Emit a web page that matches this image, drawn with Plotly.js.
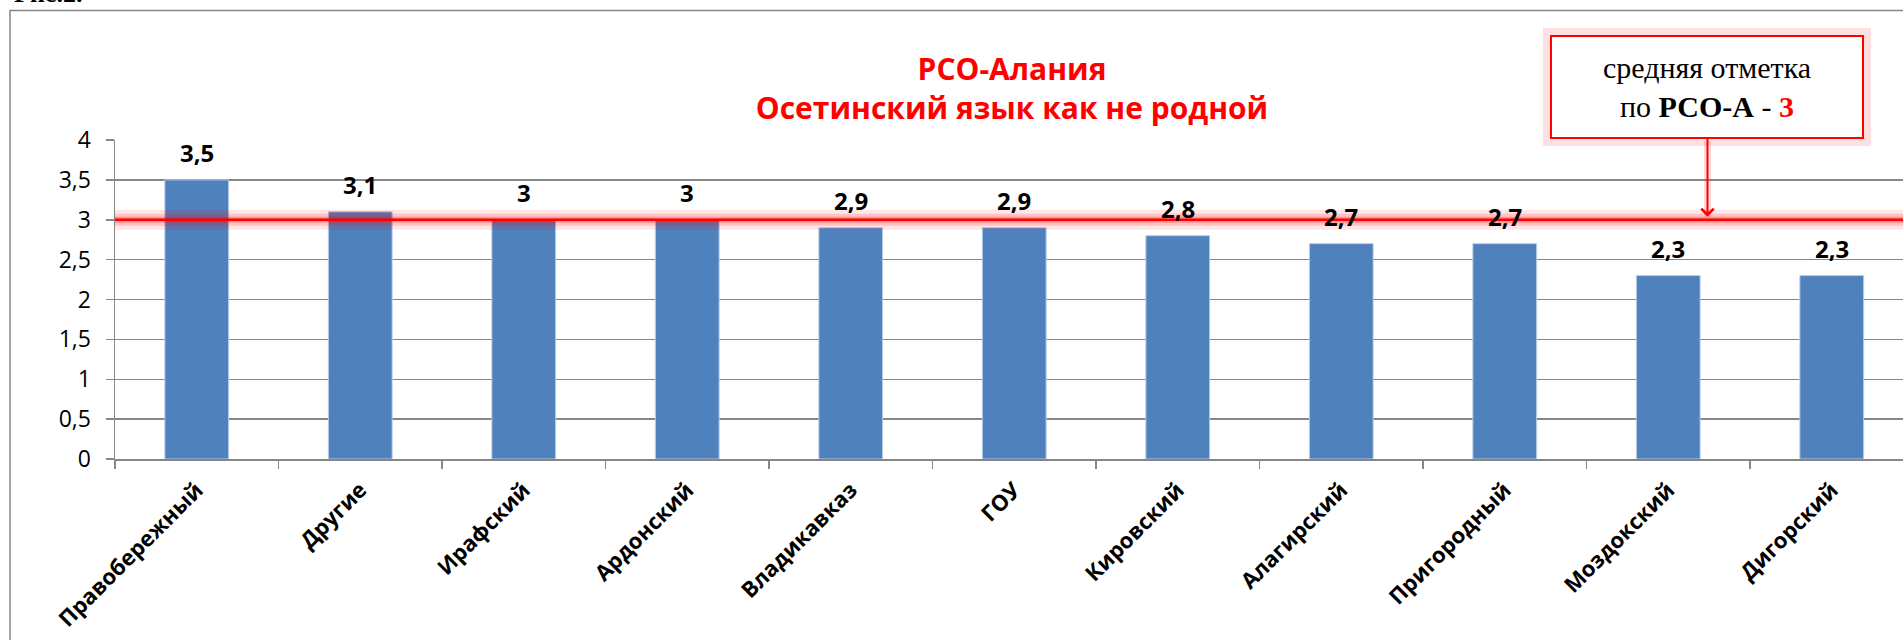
<!DOCTYPE html>
<html>
<head>
<meta charset="utf-8">
<script src="https://cdn.plot.ly/plotly-3.0.1.min.js"></script>
<style>
  body { margin: 0; background: #fff; }
  #myDiv { width: 1903px; height: 640px; }
</style>
</head>
<body>
<div id="myDiv"></div>
<script>
// data
var districts = ['Правобережный', 'Другие', 'Ирафский', 'Ардонский', 'Владикавказ', 'ГОУ',
                 'Кировский', 'Алагирский', 'Пригородный', 'Моздокский', 'Дигорский'];
var scores = [3.5, 3.1, 3, 3, 2.9, 2.9, 2.8, 2.7, 2.7, 2.3, 2.3];
var avgScore = 3;
var titleLines = ['РСО-Алания', 'Осетинский язык как не родной'];
var yTicks = [0, 0.5, 1, 1.5, 2, 2.5, 3, 3.5, 4];

var W = 1903, H = 640;
var ml = 115, mt = 140, mb = 181;
var plotW = W - ml, plotH = H - mt - mb;
var catW = 163.5; // px per category as in the picture

function comma(v) {
  return String(v).replace('.', ',');
}
// pixel -> paper helpers for the outer frame
function px(x) { return (x - ml) / plotW; }
function py(y) { return (H - mb - y) / plotH; }

var trace = {
  x: districts,
  y: scores,
  type: 'bar',
  width: 0.39,
  marker: {color: '#4F81BD', line: {color: '#b9cde5', width: 1}},
  hoverinfo: 'x+y'
};

// data labels above the bars
var labels = districts.map(function (d, i) {
  return {
    x: d, y: scores[i], xref: 'x', yref: 'y',
    text: comma(scores[i]),
    showarrow: false, yanchor: 'bottom', yshift: 9,
    font: {family: 'Open Sans', size: 24, color: '#000', weight: 'bold'}
  };
});

// red mean line with a soft glow
var glow = [
  {w: 20, c: 'rgba(255,0,0,0.10)'},
  {w: 12, c: 'rgba(255,0,0,0.15)'},
  {w: 6, c: 'rgba(255,0,0,0.25)'},
  {w: 2.5, c: '#ff0000'}
];
var shapes = glow.map(function (g) {
  return {
    type: 'line', xref: 'paper', yref: 'y',
    x0: 0, x1: 1, y0: avgScore, y1: avgScore,
    line: {color: g.c, width: g.w}
  };
});
// outer chart frame (partly cut off by the picture)
shapes.push({
  type: 'path', xref: 'paper', yref: 'paper',
  path: 'M' + px(10) + ',' + py(H + 20) + ' L' + px(10) + ',' + py(10.5) + ' L' + px(W + 20) + ',' + py(10.5),
  line: {color: '#868686', width: 1.5}
});

var boxX = 9.24;
var boxText = 'средняя отметка<br>по <b>РСО-А</b> - <b><span style="color:#ff0000">' + avgScore + '</span></b>';

var annotations = labels.concat([
  // glow of the callout
  {
    x: boxX, y: avgScore, xref: 'x', yref: 'y',
    text: ' ', showarrow: true, arrowhead: 0, arrowwidth: 7,
    arrowcolor: 'rgba(255,0,0,0.14)', ax: 0, ay: -133, standoff: 3,
    width: 306, height: 96, borderpad: 2, borderwidth: 9,
    bordercolor: 'rgba(255,0,0,0.12)', bgcolor: 'rgba(0,0,0,0)'
  },
  {
    x: boxX, y: avgScore, xref: 'x', yref: 'y',
    text: boxText, showarrow: true, arrowhead: 4, arrowsize: 1.2, arrowwidth: 2,
    arrowcolor: '#ff0000', ax: 0, ay: -133, standoff: 3,
    width: 306, height: 96, borderpad: 2, borderwidth: 2,
    bordercolor: '#ff0000', bgcolor: '#ffffff',
    font: {family: 'Liberation Serif', size: 30, color: '#000'}
  },
  {
    text: '<b>Рис.2.</b>', xref: 'paper', yref: 'paper',
    x: px(12), y: py(10), xanchor: 'left', yanchor: 'bottom', showarrow: false,
    font: {family: 'Liberation Serif', size: 26, color: '#000'}
  }
]);

var layout = {
  width: W,
  height: H,
  margin: {l: ml, r: 0, t: mt, b: mb, pad: 0},
  paper_bgcolor: '#fff',
  plot_bgcolor: '#fff',
  separators: ', ',
  showlegend: false,
  title: {
    text: titleLines.join('<br>'),
    font: {family: 'Open Sans', size: 30, color: '#ff0000', weight: 'bold'},
    xref: 'container', x: 1012 / W, xanchor: 'center',
    yref: 'container', y: 1 - 80 / H, yanchor: 'top'
  },
  xaxis: {
    range: [-0.5, -0.5 + plotW / catW],
    showline: true, linecolor: '#868686', linewidth: 1.5,
    ticks: 'outside', tickson: 'boundaries', ticklen: 8, tickcolor: '#868686', tickwidth: 1.5,
    tickangle: -45, ticklabelstandoff: 8,
    tickfont: {family: 'Open Sans', size: 22, color: '#000', weight: 'bold'},
    showgrid: false, zeroline: false, fixedrange: true
  },
  yaxis: {
    range: [0, 4],
    tickvals: yTicks,
    showline: true, linecolor: '#868686', linewidth: 1.5,
    ticks: 'outside', ticklen: 8, tickcolor: '#868686', tickwidth: 1.5,
    ticklabelstandoff: 10,
    tickfont: {family: 'Open Sans', size: 23, color: '#000'},
    showgrid: true, gridcolor: '#868686', gridwidth: 1.5,
    zeroline: false, fixedrange: true
  },
  shapes: shapes,
  annotations: annotations
};

Plotly.newPlot('myDiv', [trace], layout, {displayModeBar: false, staticPlot: true});
</script>
</body>
</html>
